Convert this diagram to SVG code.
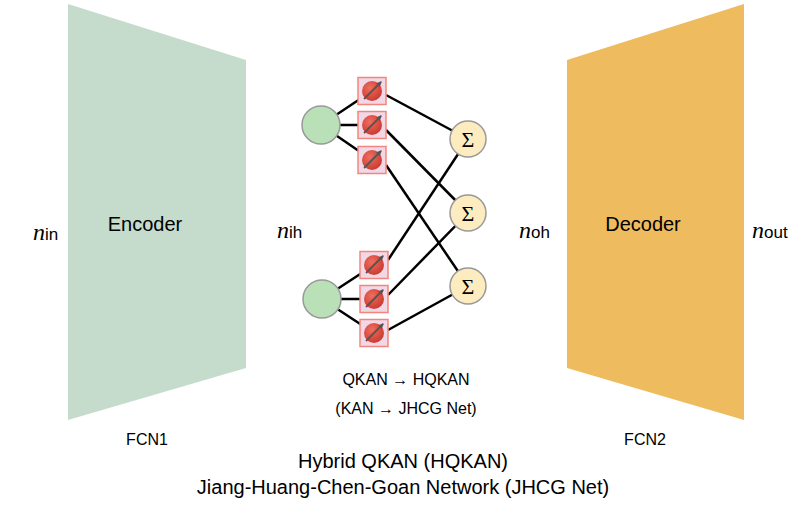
<svg xmlns="http://www.w3.org/2000/svg" width="807" height="508" viewBox="0 0 807 508">
<style>
text{font-family:"Liberation Sans",Arial,sans-serif;fill:#000}
.lbl{font-size:20px}
.it{font-family:"Liberation Serif","Times New Roman",serif;font-style:italic;font-size:24px}
.sub{font-family:"Liberation Sans",Arial,sans-serif;font-style:normal;font-size:17px}
.e{stroke:#000;stroke-width:2.5;fill:none}
.in{fill:#b9e0b6;stroke:#999;stroke-width:1.5}
.sum{fill:#fdecbf;stroke:#999;stroke-width:1.5}
.box{fill:#f2d8e6;stroke:#f3867c;stroke-width:1.5}
.sig{font-family:"Liberation Serif","Times New Roman",serif;font-size:22px;text-anchor:middle}
</style>
<defs>
<radialGradient id="rb" cx="0.4" cy="0.35" r="0.7">
<stop offset="0" stop-color="#ef6e5e"/><stop offset="1" stop-color="#c9382e"/>
</radialGradient>
<marker id="ah" viewBox="0 0 10 10" refX="8" refY="5" markerWidth="3" markerHeight="3" orient="auto"><path d="M0,0L10,5L0,10z" fill="#555"/></marker>
<g id="q">
<rect class="box" x="-14" y="-13.5" width="28" height="27"/>
<circle r="10" fill="url(#rb)"/>
<line x1="-8" y1="8" x2="9" y2="-9" stroke="#555" stroke-width="1.8" marker-end="url(#ah)"/>
</g>
</defs>
<g id="encoder"><polygon points="68,4 246,60 246,368 68,420" fill="#c5dccd"/><text class="lbl" x="145" y="231" text-anchor="middle">Encoder</text><text x="147" y="445" font-size="16" text-anchor="middle">FCN1</text></g>
<g id="decoder"><polygon points="567,60 744,4 744,420 567,368" fill="#eebc5f"/><text class="lbl" x="643" y="231" text-anchor="middle">Decoder</text><text x="645" y="445" font-size="16" text-anchor="middle">FCN2</text></g>
<g id="labels">
<text class="it" x="33" y="240">n<tspan class="sub">in</tspan></text>
<text class="it" x="277" y="238">n<tspan class="sub">ih</tspan></text>
<text class="it" x="519" y="238">n<tspan class="sub">oh</tspan></text>
<text class="it" x="752" y="238">n<tspan class="sub">out</tspan></text>
<text x="406" y="385" font-size="16" text-anchor="middle">QKAN → HQKAN</text>
<text x="406" y="414" font-size="16" text-anchor="middle">(KAN → JHCG Net)</text>
<text x="403" y="468" font-size="20" text-anchor="middle">Hybrid QKAN (HQKAN)</text>
<text x="403" y="494" font-size="20" text-anchor="middle">Jiang-Huang-Chen-Goan Network (JHCG Net)</text>
</g>
<g id="connectors">
<line class="e" x1="321" y1="125" x2="372" y2="91"/><line class="e" x1="321" y1="125" x2="372" y2="125"/><line class="e" x1="321" y1="125" x2="372" y2="160"/>
<line class="e" x1="322" y1="299" x2="374" y2="265"/><line class="e" x1="322" y1="299" x2="374" y2="299"/><line class="e" x1="322" y1="299" x2="374" y2="333"/>
<line class="e" x1="386" y1="95" x2="468" y2="139"/>
<line class="e" x1="386" y1="130" x2="468" y2="213"/>
<line class="e" x1="386" y1="165" x2="468" y2="286"/>
<line class="e" x1="388" y1="260" x2="468" y2="139"/>
<line class="e" x1="388" y1="295" x2="468" y2="213"/>
<line class="e" x1="388" y1="330" x2="468" y2="286"/>
</g>
<g id="in1"><circle class="in" cx="321" cy="125" r="19"/></g>
<g id="in2"><circle class="in" cx="322" cy="299" r="19"/></g>
<g id="q1"><use href="#q" x="372" y="91"/></g>
<g id="q2"><use href="#q" x="372" y="125"/></g>
<g id="q3"><use href="#q" x="372" y="160"/></g>
<g id="q4"><use href="#q" x="374" y="265"/></g>
<g id="q5"><use href="#q" x="374" y="299"/></g>
<g id="q6"><use href="#q" x="374" y="333"/></g>
<g id="s1"><circle class="sum" cx="468" cy="139" r="18"/><text class="sig" x="468" y="147">Σ</text></g>
<g id="s2"><circle class="sum" cx="468" cy="213" r="18"/><text class="sig" x="468" y="221">Σ</text></g>
<g id="s3"><circle class="sum" cx="468" cy="286" r="18"/><text class="sig" x="468" y="294">Σ</text></g>
</svg>
